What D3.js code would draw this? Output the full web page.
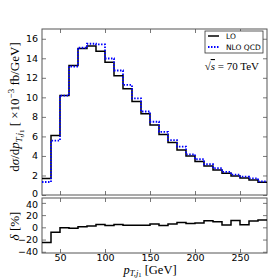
<!DOCTYPE html>
<html>
<head>
<meta charset="utf-8">
<script src="https://cdn.jsdelivr.net/npm/d3@7.9.0/dist/d3.min.js"></script>
<style>
  body { margin: 0; background: #fff; }
  svg { display: block; }
  .tick text { font-family: "DejaVu Sans", sans-serif; font-size: 9.5px; fill: #000; }
</style>
</head>
<body>
<svg id="chart" width="280" height="280"></svg>
<script>
// bin edges of p_T,j1 [GeV]
const binEdges = [30, 40, 50, 60, 70, 80, 90, 100, 110, 120, 130, 140, 150, 160,
                  170, 180, 190, 200, 210, 220, 230, 240, 250, 260, 270, 280];
// dsigma/dpT [1e-3 fb/GeV]
const lo  = [1.7, 6.1, 10.18, 13.27, 15.0, 15.25, 14.73, 13.6, 12.2, 10.87, 9.57, 8.31, 7.16,
             6.19, 5.37, 4.62, 4.0, 3.42, 2.97, 2.56, 2.22, 1.95, 1.74, 1.54, 1.3];
const nlo = [1.33, 5.57, 10.18, 13.16, 15.08, 15.49, 15.42, 13.98, 12.75, 11.27, 9.9, 8.55, 7.5,
             6.46, 5.61, 4.96, 4.17, 3.66, 3.15, 2.74, 2.36, 2.08, 1.88, 1.71, 1.4];
// relative correction delta [%]
const delta = [-25, -8.2, -0.6, -1.7, 1, 2, 4.8, 3.2, 4.8, 3.5, 3.5, 3.5, 5.5,
               3.2, 5.3, 8.1, 6.4, 7.0, 10.8, 9.1, 3.7, 11.3, 4.3, 10.2, 11.8];

const xTicks = [50, 100, 150, 200, 250];
const yTicksTop = [0, 2, 4, 6, 8, 10, 12, 14, 16];
const yTicksBot = [-40, -20, 0, 20, 40];
const seriesNames = ["LO", "NLO QCD"];

const svg = d3.select("#chart");
const frameColor = "#555";

const x = d3.scaleLinear().domain([30, 280]).range([42, 267]);
const yTop = d3.scaleLinear().domain([0, 17]).range([195, 29]);
const yBot = d3.scaleLinear().domain([-42, 48]).range([253, 198]);

// step path from bin values
function stepLine(vals, yScale) {
  const pts = vals.map((v, i) => [binEdges[i], v]);
  pts.push([binEdges[binEdges.length - 1], vals[vals.length - 1]]);
  return d3.line().x(d => x(d[0])).y(d => yScale(d[1])).curve(d3.curveStepAfter)(pts);
}

function drawFrame(yScale, yTicks, showXLabels) {
  const [y0, y1] = yScale.range();
  const g = svg.append("g");

  // left axis
  const left = g.append("g").attr("transform", `translate(${x.range()[0]},0)`)
    .call(d3.axisLeft(yScale).tickValues(yTicks).tickSize(-4).tickPadding(4)
      .tickFormat(d => d3.format("d")(d).replace("-", "\u2212")));
  // right axis (ticks only)
  const right = g.append("g").attr("transform", `translate(${x.range()[1]},0)`)
    .call(d3.axisRight(yScale).tickValues(yTicks).tickSize(-4).tickFormat(""));
  // bottom axis
  const bottom = g.append("g").attr("transform", `translate(0,${y0})`)
    .call(d3.axisBottom(x).tickValues(xTicks).tickSize(-4).tickPadding(1.5)
      .tickFormat(showXLabels ? d3.format("d") : ""));
  // top axis
  const top = g.append("g").attr("transform", `translate(0,${y1})`)
    .call(d3.axisTop(x).tickValues(xTicks).tickSize(-4).tickFormat(""));

  [left, right, bottom, top].forEach(a => {
    a.select(".domain").remove();
    a.selectAll(".tick line").attr("stroke", frameColor).attr("stroke-width", 0.8);
  });

  g.append("rect")
    .attr("x", x.range()[0]).attr("y", y1)
    .attr("width", x.range()[1] - x.range()[0]).attr("height", y0 - y1)
    .attr("fill", "none").attr("stroke", frameColor).attr("stroke-width", 1);
  return left;
}

const leftTop = drawFrame(yTop, yTicksTop, false);
const leftBot = drawFrame(yBot, yTicksBot, true);
// keep the shared corner labels (0 / 40) from touching
leftTop.selectAll(".tick text").filter(d => d === 0).attr("dy", "0.2em");
leftBot.selectAll(".tick text").filter(d => d === 40).attr("dy", "0.45em");

// top panel histograms
svg.append("path").attr("d", stepLine(lo, yTop))
  .attr("fill", "none").attr("stroke", "#000").attr("stroke-width", 1.5);
svg.append("path").attr("d", stepLine(nlo, yTop))
  .attr("fill", "none").attr("stroke", "#0000ff").attr("stroke-width", 1.8)
  .attr("stroke-dasharray", "1.5,1.5");

// ratio panel
svg.append("path").attr("d", stepLine(delta, yBot))
  .attr("fill", "none").attr("stroke", "#000").attr("stroke-width", 1.5);

// legend
const lg = svg.append("g");
lg.append("rect").attr("x", 205).attr("y", 31).attr("width", 58).attr("height", 22)
  .attr("fill", "#fff").attr("stroke", "#333").attr("stroke-width", 0.8);
const legendStyles = [
  { color: "#000", dash: null, w: 1.5 },
  { color: "#0000ff", dash: "1.5,1.5", w: 1.8 }
];
seriesNames.forEach((name, i) => {
  const yy = 36 + i * 11;
  lg.append("line").attr("x1", 208).attr("x2", 219).attr("y1", yy).attr("y2", yy)
    .attr("stroke", legendStyles[i].color).attr("stroke-width", legendStyles[i].w)
    .attr("stroke-dasharray", legendStyles[i].dash);
  lg.append("text").attr("x", 226).attr("y", yy + 2.8)
    .attr("font-family", "DejaVu Sans, sans-serif").attr("font-size", 7.5)
    .text(name);
});

// sqrt(s) annotation
const ann = svg.append("text").attr("x", 259).attr("y", 70).attr("text-anchor", "end")
  .attr("font-family", "Liberation Serif, serif").attr("font-size", 11);
ann.append("tspan").text("\u221A");
ann.append("tspan").attr("font-style", "italic").attr("text-decoration", "overline").text("s");
ann.append("tspan").text(" = 70 TeV");

// axis labels
const serif = "Liberation Serif, serif";
const xl = svg.append("text").attr("x", 150).attr("y", 274).attr("text-anchor", "middle")
  .attr("font-family", serif).attr("font-size", 12.5);
xl.append("tspan").attr("font-style", "italic").text("p");
xl.append("tspan").attr("font-size", 8.5).attr("dy", 2).attr("font-style", "italic").text("T,j");
xl.append("tspan").attr("font-size", 6.5).attr("dy", 1.2).text("1");
xl.append("tspan").attr("dy", -3.2).text(" [GeV]");

const yl = svg.append("text").attr("transform", "translate(19,107) rotate(-90)")
  .attr("text-anchor", "middle").attr("font-family", serif).attr("font-size", 13);
yl.append("tspan").text("d");
yl.append("tspan").attr("font-style", "italic").text("\u03C3");
yl.append("tspan").text("/d");
yl.append("tspan").attr("font-style", "italic").text("p");
yl.append("tspan").attr("font-size", 9).attr("dy", 3).attr("font-style", "italic").text("T,j");
yl.append("tspan").attr("font-size", 7).attr("dy", 2).text("1");
yl.append("tspan").attr("dy", -5).text(" [ \u00D710");
yl.append("tspan").attr("font-size", 9).attr("dy", -5).text("\u22123");
yl.append("tspan").attr("dy", 5).text(" fb/GeV]");

const dl = svg.append("text").attr("transform", "translate(19,226) rotate(-90)")
  .attr("text-anchor", "middle").attr("font-family", serif).attr("font-size", 13);
dl.append("tspan").attr("font-style", "italic").text("\u03B4");
dl.append("tspan").text(" [%]");
</script>
</body>
</html>
